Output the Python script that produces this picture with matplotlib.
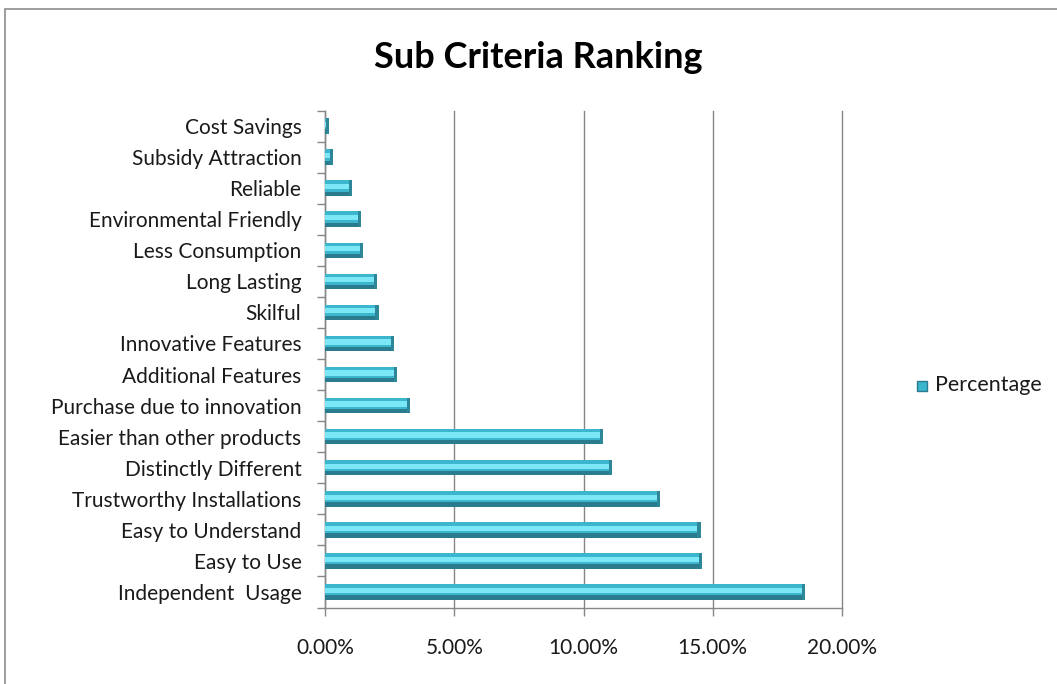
import matplotlib
matplotlib.use("Agg")
import matplotlib.pyplot as plt
from matplotlib.patches import Rectangle
from matplotlib.ticker import FuncFormatter, FixedLocator

categories = ["Independent  Usage", "Easy to Use", "Easy to Understand",
              "Trustworthy Installations", "Distinctly Different",
              "Easier than other products", "Purchase due to innovation",
              "Additional Features", "Innovative Features", "Skilful",
              "Long Lasting", "Less Consumption", "Environmental Friendly",
              "Reliable", "Subsidy Attraction", "Cost Savings"]
values = [18.58, 14.59, 14.53, 12.96, 11.10, 10.74, 3.30, 2.78, 2.68, 2.07,
          2.02, 1.48, 1.39, 1.04, 0.31, 0.14]
xticks = [0, 5, 10, 15, 20]
series_name = "Percentage"
title = "Sub Criteria Ranking"

plt.rcParams['font.family'] = ['Lato', 'DejaVu Sans']

W, H = 1057, 684
fig = plt.figure(figsize=(W / 100, H / 100), dpi=100)
fig.patch.set_facecolor("white")

# outer chart frame
fig.patches.append(Rectangle((5 / W, -0.1), 1.2, 1 - 9 / H + 0.1, transform=fig.transFigure,
                             fill=False, edgecolor="#8c8c8c", linewidth=1.2))

left, right, top, bottom = 325, 842, 110.5, 607.5
ax = fig.add_axes([left / W, 1 - bottom / H, (right - left) / W, (bottom - top) / H])

n = len(categories)
ypos = list(range(n))
bh = 0.5
# main bar
ax.barh(ypos, values, height=bh, color="#3bb6cd", edgecolor="none", zorder=3)
# bright highlight band
ax.barh([y + bh * 0.1 for y in ypos], values, height=bh * 0.34, color="#7ce8f7",
        edgecolor="none", zorder=4)
# dark lower edge
ax.barh([y - bh * 0.36 for y in ypos], values, height=bh * 0.28, color="#2a7b8d",
        edgecolor="none", zorder=4)
# end cap
ax.barh(ypos, [0.12] * n, left=[v - 0.12 for v in values], height=bh, color="#2d8798",
        edgecolor="none", zorder=5)

ax.set_xlim(0, 20)
ax.set_ylim(-0.5, n - 0.5)
ax.set_yticks(ypos)
ax.set_yticklabels(categories)
ax.yaxis.set_minor_locator(FixedLocator([i - 0.5 for i in range(n + 1)]))
ax.tick_params(axis="y", which="major", length=0, pad=17, labelsize=15, labelcolor="#1a1a1a")
ax.tick_params(axis="y", which="minor", length=6, color="#868686", width=1)
ax.set_xticks(xticks)
ax.xaxis.set_major_formatter(FuncFormatter(lambda v, p: f"{v:.2f}%"))
ax.tick_params(axis="x", length=6, color="#868686", width=1, pad=16,
               labelsize=15, labelcolor="#1a1a1a")
ax.grid(axis="x", color="#868686", linewidth=1, zorder=0)
for gl in ax.get_xgridlines():
    gl.set_clip_on(False)
for s in ["top", "right"]:
    ax.spines[s].set_visible(False)
for s in ["left", "bottom"]:
    ax.spines[s].set_color("#868686")
    ax.spines[s].set_linewidth(1)

fig.text(538 / W, 1 - 58 / H, title, ha="center", va="center", fontsize=26,
         fontweight="bold", color="#000000")

# legend
fig.patches.append(Rectangle((917 / W, 1 - 391 / H), 10 / W, 10 / H, transform=fig.transFigure,
                             facecolor="#3bb6cd", edgecolor="#2a7b8d", linewidth=1))
fig.text(935 / W, 1 - 385 / H, series_name, ha="left", va="center", fontsize=15.5,
         color="#1a1a1a")

fig.savefig("out.png", dpi=100)
